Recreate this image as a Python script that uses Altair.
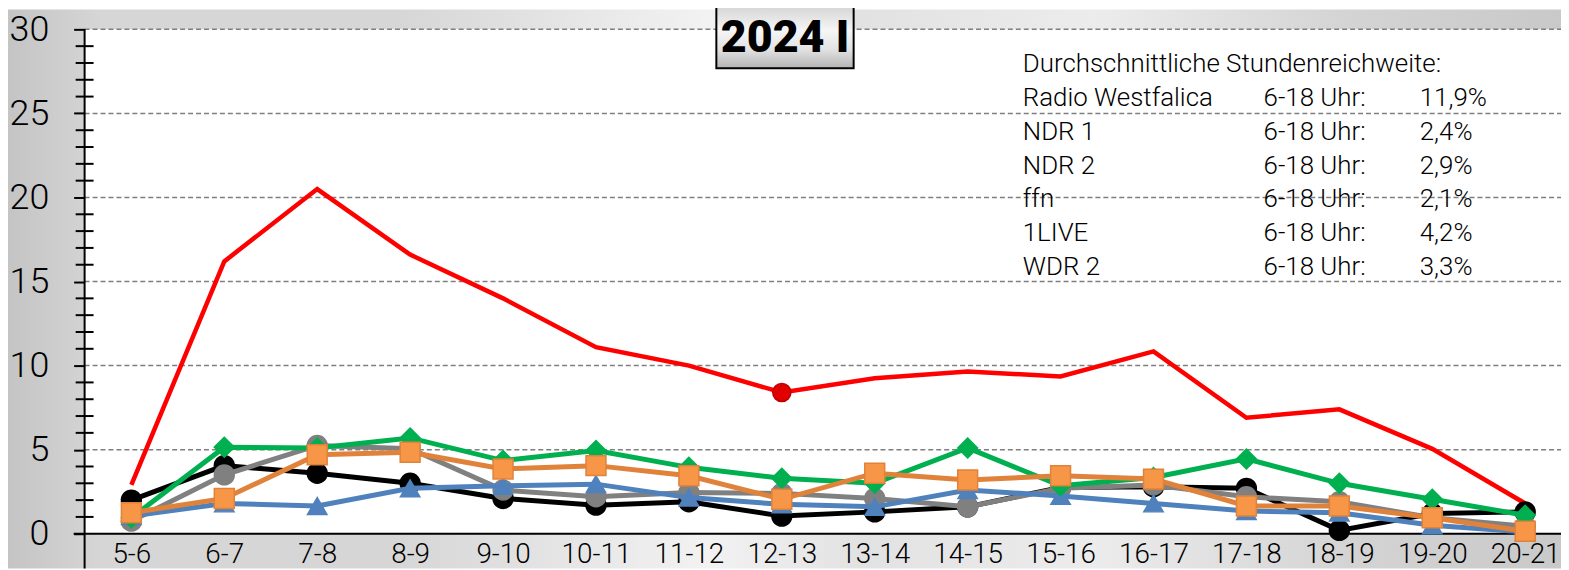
import altair as alt
import pandas as pd

# ---------------- data ----------------
hours = ["5-6", "6-7", "7-8", "8-9", "9-10", "10-11", "11-12", "12-13",
         "13-14", "14-15", "15-16", "16-17", "17-18", "18-19", "19-20", "20-21"]

stations = ["Radio Westfalica", "NDR 1", "NDR 2", "ffn", "1LIVE", "WDR 2"]
avg_text = ["11,9%", "2,4%", "2,9%", "2,1%", "4,2%", "3,3%"]
avg_label = "6-18 Uhr:"
header_text = "Durchschnittliche Stundenreichweite:"
title_text = "2024 I"

radio_westfalica = [2.9, 16.2, 20.5, 16.6, 14.0, 11.1, 10.0, 8.4, 9.25, 9.65, 9.35, 10.85, 6.9, 7.4, 5.05, 1.8]
ndr1 = [2.0, 4.05, 3.6, 3.0, 2.1, 1.7, 1.9, 1.05, 1.3, 1.6, 2.75, 2.8, 2.7, 0.2, 1.2, 1.3]
ndr2 = [0.75, 3.5, 5.25, 5.05, 2.6, 2.2, 2.45, 2.4, 2.1, 1.6, 2.7, 2.9, 2.2, 1.9, 0.95, 0.45]
ffn = [1.05, 1.8, 1.65, 2.7, 2.85, 2.95, 2.15, 1.75, 1.6, 2.6, 2.25, 1.8, 1.35, 1.25, 0.5, 0.1]
einslive = [0.95, 5.15, 5.1, 5.7, 4.35, 4.95, 3.95, 3.3, 3.0, 5.1, 2.85, 3.35, 4.45, 3.0, 2.05, 1.1]
wdr2 = [1.25, 2.1, 4.7, 4.85, 3.85, 4.05, 3.45, 2.05, 3.6, 3.2, 3.45, 3.25, 1.65, 1.65, 0.95, 0.15]

red_marker_hours = ["12-13"]

y_major = [0, 5, 10, 15, 20, 25, 30]
y_grid = [5, 10, 15, 20, 25, 30]
y_minor = [v for v in range(0, 31) if v % 5 != 0]

series_values = [radio_westfalica, ndr1, ndr2, ffn, einslive, wdr2]

# ---------------- styles ----------------
FONT = "Roboto, sans-serif"
W, H = 1484, 507

style = {
    "Radio Westfalica": dict(line="#ff0000", width=4.5, shape=None, fill=None, stroke=None, size=0),
    "NDR 1": dict(line="#000000", width=5, shape="circle", fill="#000000", stroke="#000000", size=400),
    "NDR 2": dict(line="#808080", width=5, shape="circle", fill="#808080", stroke="#808080", size=400),
    "ffn": dict(line="#4f81bd", width=5, shape="triangle-up", fill="#4f81bd", stroke="#4f81bd", size=380),
    "1LIVE": dict(line="#00b050", width=5, shape="diamond", fill="#00b050", stroke="#00b050", size=400),
    "WDR 2": dict(line="#e0823a", width=5, shape="square", fill="#f79646", stroke="#e0823a", size=400),
}

rows = []
for s, vals in zip(stations, series_values):
    for h, v in zip(hours, vals):
        rows.append({"station": s, "hour": h, "value": v})
df = pd.DataFrame(rows)

one = pd.DataFrame({"k": [0]})

x_scale = alt.Scale(type="point", domain=hours, range=[47, 1448], padding=0)
y_scale = alt.Scale(domain=[0, 30], nice=False, zero=True)

x_axis = alt.Axis(title=None, labelFontSize=28, labelFont=FONT, labelFontWeight=300,
                  labelColor="#000000", ticks=False, domain=False, grid=False, labelAngle=0,
                  labelPadding=29, labelBaseline="alphabetic", labelOverlap=False,
                  labelBound=False, labelFlush=False, zindex=1)
y_axis = alt.Axis(title=None, values=y_major, labelFontSize=36, labelFont=FONT,
                  labelFontWeight=300, labelColor="#000000", tickSize=11, tickWidth=2,
                  tickColor="#000000", domain=False, grid=False, labelPadding=25,
                  labelFlush=False, zindex=1)

X = alt.X("hour:N", sort=hours, scale=x_scale, axis=x_axis)
Y = alt.Y("value:Q", scale=y_scale, axis=y_axis)

layers = []

# background (gradient outside the plot) and white plot area
bg_grad = alt.Gradient(
    gradient="linear", x1=0, y1=0, x2=1, y2=0,
    stops=[alt.GradientStop(color="#c4c4c4", offset=0),
           alt.GradientStop(color="#d6d6d6", offset=0.06),
           alt.GradientStop(color="#d6d6d6", offset=0.25),
           alt.GradientStop(color="#f2f2f2", offset=0.45),
           alt.GradientStop(color="#e2e2e2", offset=0.55),
           alt.GradientStop(color="#ececec", offset=0.7),
           alt.GradientStop(color="#d4d4d4", offset=0.86),
           alt.GradientStop(color="#c9c9c9", offset=1)])
layers.append(alt.Chart(one).mark_rect(fill=bg_grad).encode(
    x=alt.value(-77), x2=alt.value(W), y=alt.value(-20), y2=alt.value(H + 35)))
layers.append(alt.Chart(one).mark_rect(fill="#ffffff").encode(
    x=alt.value(0), x2=alt.value(W), y=alt.value(0), y2=alt.value(H)))

# grid lines
layers.append(alt.Chart(pd.DataFrame({"value": y_grid})).mark_rule(
    color="#7f7f7f", strokeWidth=1.5, strokeDash=[5, 3]).encode(
    y=Y, x=alt.value(0), x2=alt.value(W)))

# minor ticks crossing the y axis
layers.append(alt.Chart(pd.DataFrame({"value": y_minor})).mark_rule(
    color="#000000", strokeWidth=2).encode(
    y=Y, x=alt.value(-9), x2=alt.value(9)))

# axis lines
layers.append(alt.Chart(one).mark_rule(color="#000000", strokeWidth=2).encode(
    x=alt.value(0), y=alt.value(0), y2=alt.value(H + 35)))
layers.append(alt.Chart(one).mark_rule(color="#000000", strokeWidth=2).encode(
    x=alt.value(-11), x2=alt.value(W), y=alt.value(H)))

# data series
for s in stations:
    st = style[s]
    sdf = df[df["station"] == s]
    layers.append(alt.Chart(sdf).mark_line(color=st["line"], strokeWidth=st["width"],
                                           strokeJoin="miter").encode(x=X, y=Y))
    if st["shape"]:
        layers.append(alt.Chart(sdf).mark_point(
            shape=st["shape"], filled=True, fill=st["fill"], stroke=st["stroke"],
            strokeWidth=1.5, size=st["size"], opacity=1).encode(x=X, y=Y))
    if s == "Radio Westfalica":
        mdf = sdf[sdf["hour"].isin(red_marker_hours)]
        layers.append(alt.Chart(mdf).mark_point(
            shape="circle", filled=True, fill="#e00000", stroke="#c00000",
            strokeWidth=1.5, size=330, opacity=1).encode(x=X, y=Y))

# annotation block
TXT = dict(font=FONT, fontSize=26, fontWeight=300, color="#000000", align="left",
           baseline="alphabetic", lineBreak="\n", lineHeight=34)
layers.append(alt.Chart(one).mark_text(**TXT).encode(
    x=alt.value(943), y=alt.value(43), text=alt.value(header_text)))
layers.append(alt.Chart(one).mark_text(**TXT).encode(
    x=alt.value(943), y=alt.value(77), text=alt.value("\n".join(stations))))
layers.append(alt.Chart(one).mark_text(**TXT).encode(
    x=alt.value(1185), y=alt.value(77), text=alt.value("\n".join([avg_label] * len(stations)))))
layers.append(alt.Chart(one).mark_text(**TXT).encode(
    x=alt.value(1342), y=alt.value(77), text=alt.value("\n".join(avg_text))))

# title box
box_grad = alt.Gradient(
    gradient="linear", x1=0, y1=0, x2=0, y2=1,
    stops=[alt.GradientStop(color="#d4d4d4", offset=0),
           alt.GradientStop(color="#f6f6f6", offset=0.4),
           alt.GradientStop(color="#e2e2e2", offset=0.7),
           alt.GradientStop(color="#b4b4b4", offset=1)])
layers.append(alt.Chart(one).mark_rect(fill=box_grad, stroke="#000000", strokeWidth=2).encode(
    x=alt.value(635), x2=alt.value(773), y=alt.value(-24), y2=alt.value(39)))
layers.append(alt.Chart(one).mark_text(font=FONT, fontSize=45, fontWeight=900, color="#000000",
                                       align="center", baseline="alphabetic").encode(
    x=alt.value(704), y=alt.value(23), text=alt.value(title_text)))

chart = alt.layer(*layers).properties(
    width=W, height=H,
    padding={"left": 77, "top": 20, "right": 0, "bottom": 35},
    autosize=alt.AutoSizeParams(type="none"),
).configure_view(stroke=None)

chart.save("out.html", embed_options={"renderer": "svg", "actions": False})
